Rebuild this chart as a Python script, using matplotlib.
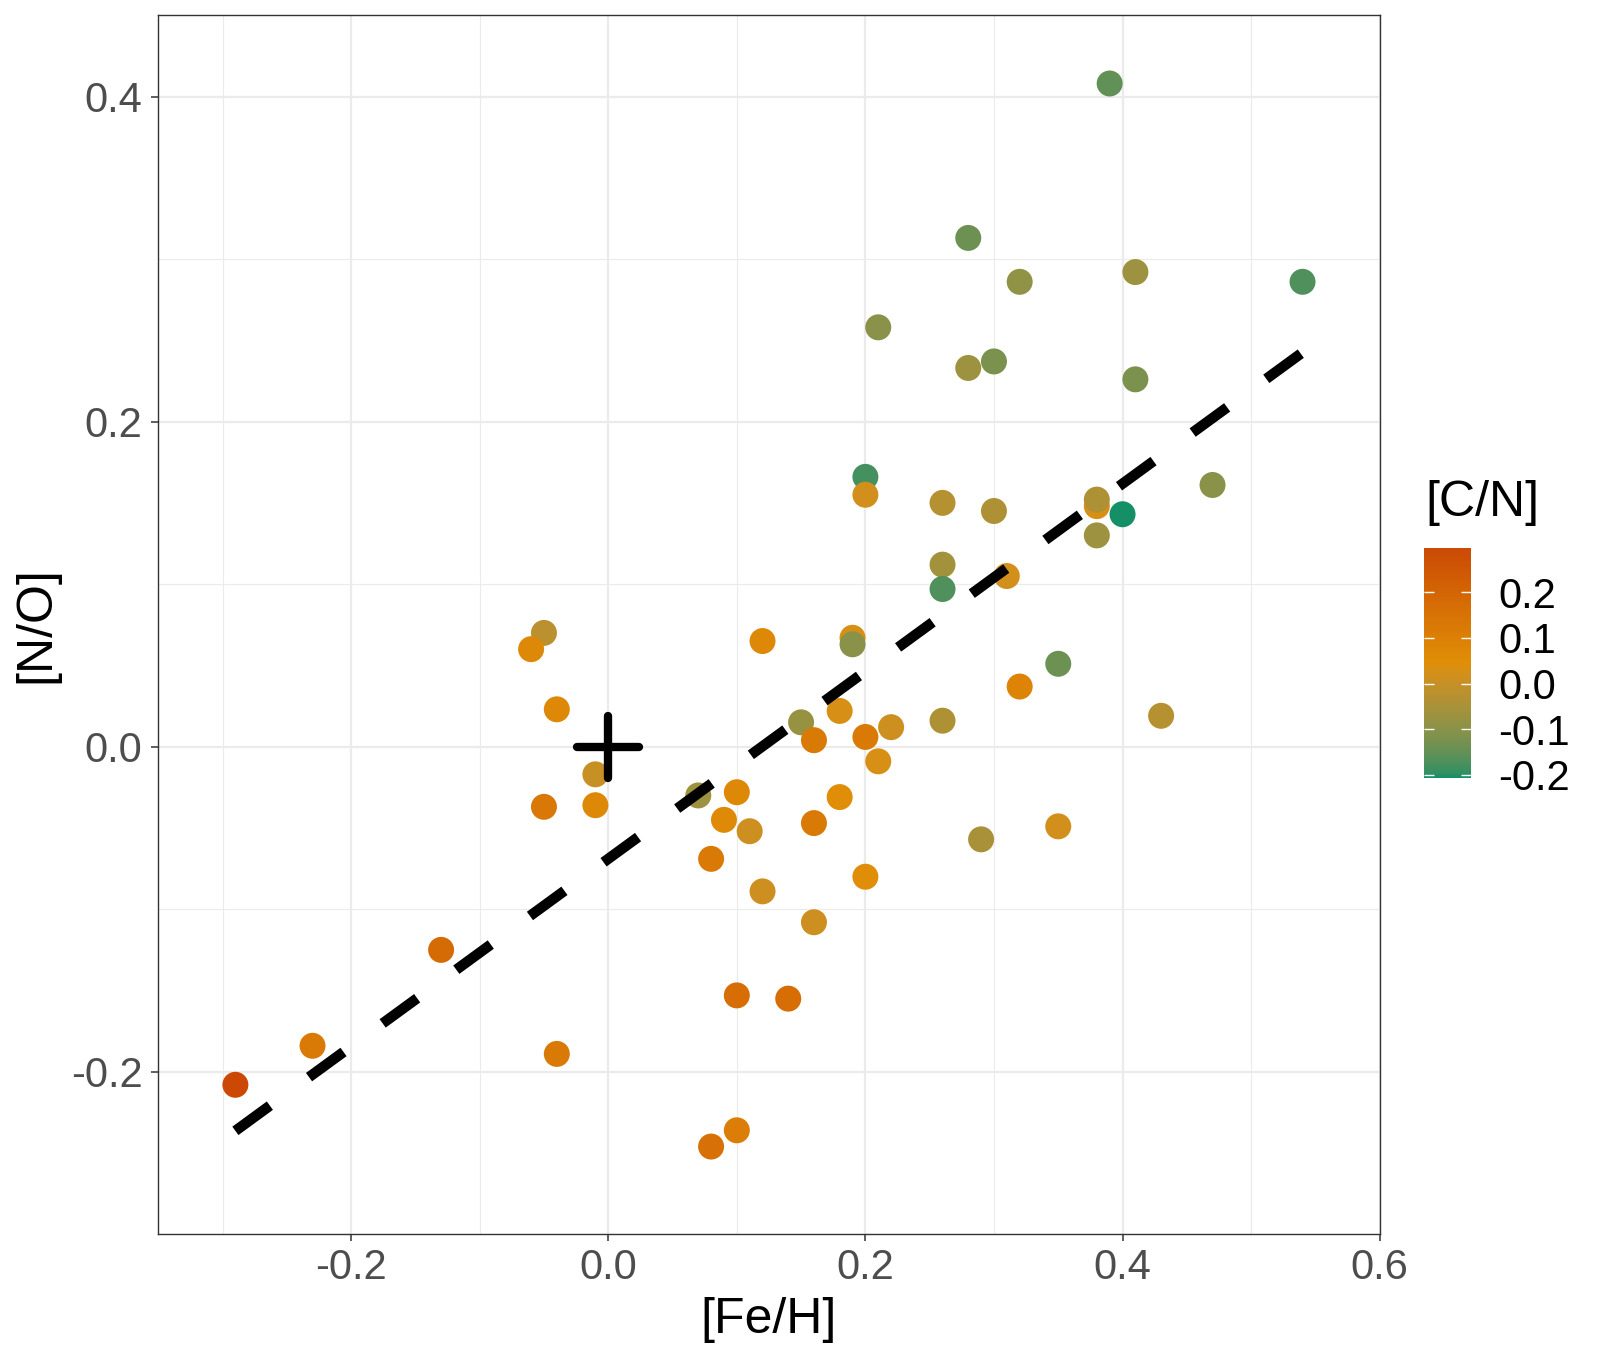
import numpy as np
import matplotlib
matplotlib.use("Agg")
import matplotlib.pyplot as plt
from matplotlib.colors import ListedColormap, Normalize, to_rgb
from matplotlib.markers import MarkerStyle
from matplotlib.ticker import MultipleLocator, FormatStrFormatter, FixedLocator

plt.rcParams['font.family'] = ['Liberation Sans', 'DejaVu Sans']
plt.rcParams['axes.unicode_minus'] = False

# ---------------- data ----------------
fe_h = [0.39, 0.28, 0.32, 0.41, 0.54, 0.21, 0.28, 0.30, 0.41, 0.20,
        0.20, 0.26, 0.30, 0.38, 0.38, 0.40, 0.38, 0.47, 0.26, 0.26,
        0.31, 0.19, 0.19, 0.35, 0.32, 0.43, 0.26, 0.15, 0.18, 0.16,
        0.20, 0.22, 0.21, -0.05, -0.06, 0.12, -0.04, -0.01, -0.05, -0.01,
        0.07, 0.10, 0.09, 0.11, 0.16, 0.18, 0.08, 0.12, 0.20, 0.29,
        0.35, 0.16, -0.13, 0.10, 0.14, -0.23, -0.04, -0.29, 0.10, 0.08]
n_o = [0.408, 0.313, 0.286, 0.292, 0.286, 0.258, 0.233, 0.237, 0.226, 0.166,
       0.155, 0.150, 0.145, 0.148, 0.152, 0.143, 0.130, 0.161, 0.112, 0.097,
       0.105, 0.067, 0.063, 0.051, 0.037, 0.019, 0.016, 0.015, 0.022, 0.004,
       0.006, 0.012, -0.009, 0.070, 0.060, 0.065, 0.023, -0.017, -0.037, -0.036,
       -0.030, -0.028, -0.045, -0.052, -0.047, -0.031, -0.069, -0.089, -0.080, -0.057,
       -0.049, -0.108, -0.125, -0.153, -0.155, -0.184, -0.189, -0.208, -0.236, -0.246]
c_n = [-0.15, -0.14, -0.09, -0.07, -0.17, -0.10, -0.07, -0.12, -0.12, -0.18,
       0.02, -0.03, -0.04, 0.03, -0.04, -0.207, -0.07, -0.10, -0.06, -0.17,
       0.02, 0.03, -0.10, -0.14, 0.09, -0.03, -0.04, -0.08, 0.03, 0.12,
       0.12, 0.01, 0.03, -0.02, 0.07, 0.07, 0.07, 0.00, 0.13, 0.07,
       -0.07, 0.07, 0.06, 0.01, 0.12, 0.05, 0.12, 0.01, 0.05, -0.05,
       0.02, 0.01, 0.18, 0.17, 0.17, 0.12, 0.12, 0.297, 0.11, 0.16]

# linear fit shown as dashed line
fit_slope = 0.577
fit_intercept = -0.069

# reference (solar) marker
ref_x = [0.0]
ref_y = [0.0]

x_ticks = [-0.2, 0.0, 0.2, 0.4, 0.6]
y_ticks = [-0.2, 0.0, 0.2, 0.4]
cb_ticks = [-0.2, -0.1, 0.0, 0.1, 0.2]

# ---------------- colour map (Lab interpolation) ----------------
_M = np.array([[0.4124564, 0.3575761, 0.1804375],
               [0.2126729, 0.7151522, 0.0721750],
               [0.0193339, 0.1191920, 0.9503041]])
_W = np.array([0.95047, 1.0, 1.08883])


def _srgb_to_lab(c):
    c = np.asarray(c, float)
    lin = np.where(c <= 0.04045, c / 12.92, ((c + 0.055) / 1.055) ** 2.4)
    xyz = _M @ lin / _W
    d = 6 / 29
    f = np.where(xyz > d ** 3, np.cbrt(xyz), xyz / (3 * d * d) + 4 / 29)
    return np.array([116 * f[1] - 16, 500 * (f[0] - f[1]), 200 * (f[1] - f[2])])


def _lab_to_srgb(lab):
    L, a, b = lab
    fy = (L + 16) / 116
    fx = fy + a / 500
    fz = fy - b / 200
    d = 6 / 29
    f = np.array([fx, fy, fz])
    xyz = np.where(f > d, f ** 3, 3 * d * d * (f - 4 / 29)) * _W
    lin = np.clip(np.linalg.inv(_M) @ xyz, 0, 1)
    s = np.where(lin <= 0.0031308, 12.92 * lin, 1.055 * lin ** (1 / 2.4) - 0.055)
    return np.clip(s, 0, 1)


anchors = ['#158F65', '#E08E07', '#CB4905']
labs = [_srgb_to_lab(to_rgb(h)) for h in anchors]
cols = []
for t in np.linspace(0, 1, 256):
    if t <= 0.5:
        u = t / 0.5
        lab = labs[0] * (1 - u) + labs[1] * u
    else:
        u = (t - 0.5) / 0.5
        lab = labs[1] * (1 - u) + labs[2] * u
    cols.append(_lab_to_srgb(lab))
cmap = ListedColormap(cols)
norm = Normalize(vmin=min(c_n), vmax=max(c_n))

# ---------------- figure ----------------
fig = plt.figure(figsize=(16, 13.6), dpi=100)
ax = fig.add_axes([0.0989, 0.0924, 0.7634, 0.8964])

sc = ax.scatter(fe_h, n_o, c=c_n, cmap=cmap, norm=norm, s=350, linewidths=0, zorder=3)

fx = np.array([min(fe_h), max(fe_h)])
ax.plot(fx, fit_intercept + fit_slope * fx, color='black', lw=7.5,
        linestyle=(0, (4.1, 4.65)), dash_capstyle='butt', zorder=4)

ax.plot(ref_x, ref_y, linestyle='none',
        marker=MarkerStyle('+', capstyle='round'), ms=44.5, mew=6,
        color='black', zorder=5)

ax.set_xlim(-0.35, 0.6)
ax.set_ylim(-0.3, 0.45)
ax.xaxis.set_major_locator(FixedLocator(x_ticks))
ax.yaxis.set_major_locator(FixedLocator(y_ticks))
ax.xaxis.set_minor_locator(MultipleLocator(0.1))
ax.yaxis.set_minor_locator(MultipleLocator(0.1))
ax.xaxis.set_major_formatter(FormatStrFormatter('%.1f'))
ax.yaxis.set_major_formatter(FormatStrFormatter('%.1f'))

ax.set_axisbelow(True)
ax.grid(which='major', color='#EBEBEB', lw=1.6)
ax.grid(which='minor', color='#EBEBEB', lw=0.8)
for sp in ax.spines.values():
    sp.set_color('#333333')
    sp.set_linewidth(1.0)

ax.tick_params(which='major', length=5.3, width=1.1, color='#333333',
               labelsize=30, labelcolor='#4D4D4D')
ax.tick_params(axis='x', which='major', pad=4.5)
ax.tick_params(axis='y', which='major', pad=6)
ax.tick_params(which='minor', length=0)

ax.set_xlabel('[Fe/H]', fontsize=36, color='black')
ax.set_ylabel('[N/O]', fontsize=36, color='black')
ax.xaxis.set_label_coords(0.5, -0.081)
ax.xaxis.label.set_va('baseline')
ax.yaxis.set_label_coords(-0.089, 0.5)
ax.yaxis.label.set_va('baseline')

# ---------------- colour bar ----------------
cax = fig.add_axes([0.89, 0.4279, 0.02938, 0.1691])
cb = fig.colorbar(sc, cax=cax)
cb.outline.set_visible(False)
cb.set_ticks(cb_ticks)
cb.ax.yaxis.set_major_formatter(FormatStrFormatter('%.1f'))
cb.ax.tick_params(axis='y', which='major', left=True, right=True, direction='in',
                  length=7, width=1.0, color='white', labelleft=False,
                  labelright=True, labelsize=30, labelcolor='black', pad=19.4)
cb.ax.tick_params(which='minor', length=0)
fig.text(0.8906, 0.6206, '[C/N]', fontsize=36, ha='left', va='baseline', color='black')

fig.savefig('out.png', dpi=100, facecolor='white')
